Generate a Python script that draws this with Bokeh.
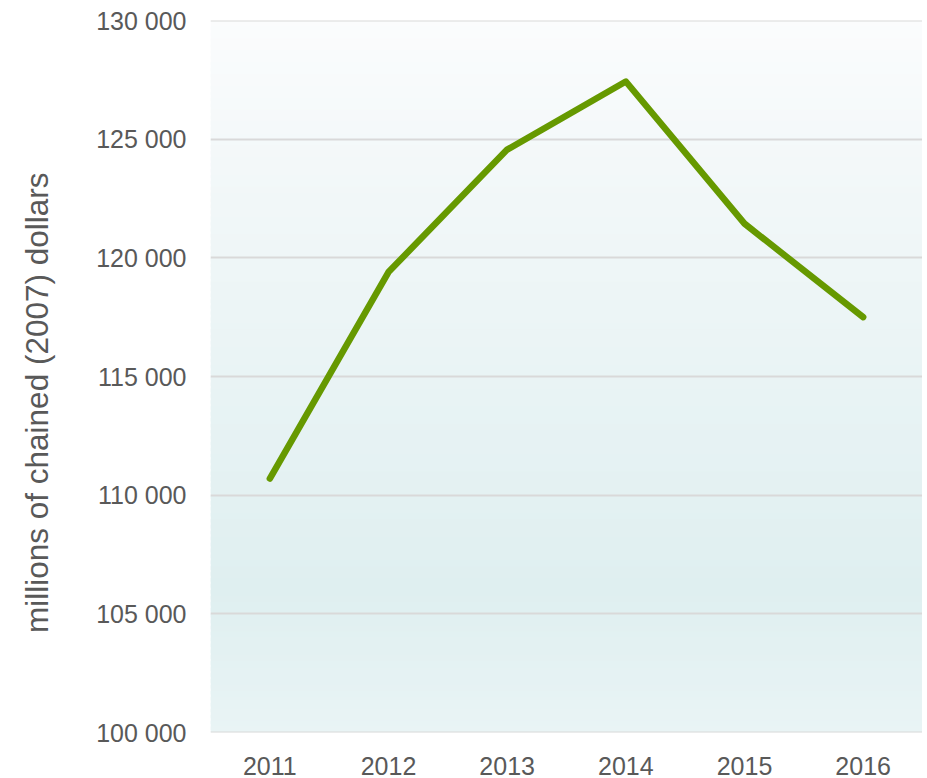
from bokeh.plotting import figure
from bokeh.models import FactorRange, Range1d, FixedTicker, BoxAnnotation, ColumnDataSource, Span
from bokeh.embed import file_html
from bokeh.resources import INLINE

years = ["2011", "2012", "2013", "2014", "2015", "2016"]
gdp = [110700, 119400, 124560, 127430, 121440, 117500]
y_ticks = [100000, 105000, 110000, 115000, 120000, 125000, 130000]
y_tick_labels = ["100 000", "105 000", "110 000", "115 000", "120 000", "125 000", "130 000"]
axis_title = "millions of chained (2007) dollars"

Y0, Y1 = 100000, 130000
FONT = "Liberation Sans"
TXT = "#595959"
GRID = "#d9d9d9"
W, H = 922, 778
BL, BB, BT = 210, 46, 20

p = figure(
    x_range=FactorRange(*years),
    y_range=Range1d(Y0, Y1),
    width=W, height=H,
    output_backend="svg", toolbar_location=None,
    min_border_left=BL, min_border_right=0,
    min_border_top=BT, min_border_bottom=BB,
)
p.outline_line_color = None
p.background_fill_color = "#ffffff"

# vertical gradient background (top -> bottom)
stops = [(0.0, (251, 252, 253)), (0.2, (243, 248, 249)), (0.8, (223, 239, 240)), (1.0, (233, 244, 245))]
def col_at(t):
    for (t0, c0), (t1, c1) in zip(stops[:-1], stops[1:]):
        if t0 <= t <= t1:
            f = (t - t0) / (t1 - t0)
            return tuple(int(round(a + (b - a) * f)) for a, b in zip(c0, c1))
    return stops[-1][1]

N = 120
step = (Y1 - Y0) / N
for i in range(N):
    top = Y1 - step * i
    bot = max(Y0, Y1 - step * (i + 1.6))
    r, g, b = col_at((i + 0.5) / N)
    p.add_layout(BoxAnnotation(bottom=bot, top=top, fill_color="#%02x%02x%02x" % (r, g, b),
                               fill_alpha=1, line_color=None, level="image"))

src = ColumnDataSource(data=dict(year=years, value=gdp))
p.line(x="year", y="value", source=src, line_color="#669900", line_width=6.5,
       line_join="round", line_cap="round")

p.xgrid.grid_line_color = None
p.ygrid.ticker = FixedTicker(ticks=y_ticks)
p.ygrid.grid_line_color = GRID
p.ygrid.grid_line_width = 2
for loc in (Y0, Y1):
    p.add_layout(Span(location=loc, dimension="width", line_color=GRID, line_width=2))

p.yaxis.ticker = FixedTicker(ticks=y_ticks)
p.yaxis.major_label_overrides = {t: l for t, l in zip(y_ticks, y_tick_labels)}
# trailing no-break spaces shift the visible title slightly below the frame centre
p.yaxis.axis_label = axis_title + "\u00a0" * 6
for ax in (p.xaxis[0], p.yaxis[0]):
    ax.axis_line_color = None
    ax.major_tick_line_color = None
    ax.minor_tick_line_color = None
    ax.major_tick_out = 0
    ax.major_tick_in = 0
    ax.major_label_text_font = FONT
    ax.major_label_text_font_size = "25px"
    ax.major_label_text_color = TXT
p.yaxis.major_label_standoff = 24
p.xaxis.major_label_standoff = 24
p.yaxis.axis_label_text_font = FONT
p.yaxis.axis_label_text_font_size = "31.5px"
p.yaxis.axis_label_text_font_style = "normal"
p.yaxis.axis_label_text_color = TXT
p.yaxis.axis_label_standoff = 38

open("out.html", "w").write(file_html(p, INLINE))
